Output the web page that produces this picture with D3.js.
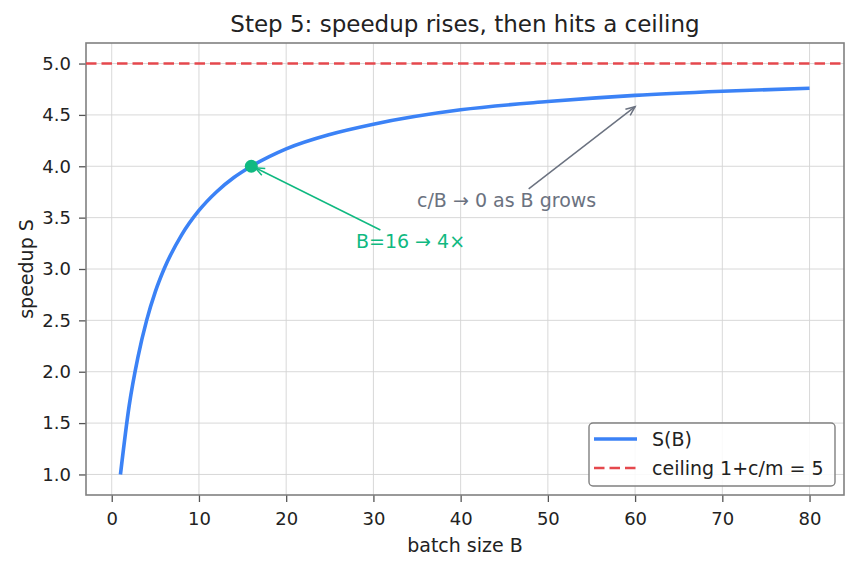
<!DOCTYPE html>
<html>
<head>
<meta charset="utf-8">
<script src="https://cdn.jsdelivr.net/npm/d3@7"></script>
<style>
  body { margin: 0; background: #fff; }
</style>
</head>
<body>
<div class="canvas"></div>
<script>
// DATA
var batchSizes = [1, 2, 3, 4, 5, 6, 8, 10, 12, 14, 16, 20, 25, 30, 40, 50, 60, 70, 80];
var speedups   = [1.0, 1.67, 2.14, 2.5, 2.78, 3.0, 3.33, 3.57, 3.75, 3.89, 4.0, 4.17, 4.31, 4.41, 4.55, 4.63, 4.69, 4.73, 4.76];
var ceiling = 5;
var xTicks = [0, 10, 20, 30, 40, 50, 60, 70, 80];
var yTicks = [1.0, 1.5, 2.0, 2.5, 3.0, 3.5, 4.0, 4.5, 5.0];
var marked = { B: 16, S: 4 };

var FONT = "'DejaVu Sans', sans-serif";

// DIMENSIONS
var w = 859, h = 569;
var margin = { left: 86, right: 15, top: 43, bottom: 74 };

var svg = d3.select('.canvas').append('svg')
    .attr('width', w)
    .attr('height', h)
    .style('font-family', FONT);

var x = d3.scaleLinear().domain([-2.95, 83.95]).range([margin.left, w - margin.right]);
var y = d3.scaleLinear().domain([0.8, 5.2]).range([h - margin.bottom, margin.top]);

// GRID
var grid = svg.append('g');
grid.selectAll('.vg').data(xTicks).enter().append('line')
    .attr('x1', d => x(d)).attr('x2', d => x(d))
    .attr('y1', margin.top).attr('y2', h - margin.bottom)
    .attr('stroke', '#d4d4d4').attr('stroke-width', 0.9);
grid.selectAll('.hg').data(yTicks).enter().append('line')
    .attr('x1', margin.left).attr('x2', w - margin.right)
    .attr('y1', d => y(d)).attr('y2', d => y(d))
    .attr('stroke', '#d4d4d4').attr('stroke-width', 0.9);

// AXES
var xAxis = svg.append('g')
    .attr('transform', 'translate(0,' + (h - margin.bottom) + ')')
    .call(d3.axisBottom(x).tickValues(xTicks).tickSize(7).tickPadding(10).tickSizeOuter(0));
var yAxis = svg.append('g')
    .attr('transform', 'translate(' + margin.left + ',0)')
    .call(d3.axisLeft(y).tickValues(yTicks).tickFormat(d3.format('.1f')).tickSize(7).tickPadding(8).tickSizeOuter(0));
[xAxis, yAxis].forEach(a => {
    a.attr('font-family', null).attr('font-size', null);
    a.select('.domain').remove();
    a.selectAll('line').attr('stroke', '#555').attr('stroke-width', 1.3);
    a.selectAll('text').style('font-family', FONT).style('font-size', '18px').attr('fill', '#222');
});

// FRAME
svg.append('rect')
    .attr('x', margin.left).attr('y', margin.top)
    .attr('width', w - margin.left - margin.right)
    .attr('height', h - margin.top - margin.bottom)
    .attr('fill', 'none').attr('stroke', '#808080').attr('stroke-width', 1.6);

// CEILING
svg.append('line')
    .attr('x1', margin.left).attr('x2', w - margin.right)
    .attr('y1', y(ceiling)).attr('y2', y(ceiling))
    .attr('stroke', '#e5484d').attr('stroke-width', 2.4)
    .attr('stroke-dasharray', '10.5,5');

// CURVE
var line = d3.line()
    .x((d, i) => x(batchSizes[i]))
    .y(d => y(d))
    .curve(d3.curveMonotoneX);
svg.append('path')
    .datum(speedups)
    .attr('d', line)
    .attr('fill', 'none')
    .attr('stroke', '#3b82f6')
    .attr('stroke-width', 3.6);

// MARKED POINT
svg.append('circle')
    .attr('cx', x(marked.B)).attr('cy', y(marked.S))
    .attr('r', 6.5).attr('fill', '#10b981');

// ARROW HELPER
function arrow(x1, y1, x2, y2, color) {
    svg.append('line')
        .attr('x1', x1).attr('y1', y1).attr('x2', x2).attr('y2', y2)
        .attr('stroke', color).attr('stroke-width', 1.5);
    var ang = Math.atan2(y1 - y2, x1 - x2);
    var L = 10, a = 0.4;
    var p = [[x2 + L * Math.cos(ang + a), y2 + L * Math.sin(ang + a)], [x2, y2],
             [x2 + L * Math.cos(ang - a), y2 + L * Math.sin(ang - a)]];
    svg.append('path')
        .attr('d', d3.line()(p))
        .attr('fill', 'none').attr('stroke', color).attr('stroke-width', 1.5);
}

function label(sel, size, color) {
    return sel.style('font-family', FONT).style('font-size', size + 'px').attr('fill', color || '#222');
}

// ANNOTATIONS
arrow(x(30.8), y(3.38), x(marked.B) + 4, y(marked.S) + 1.5, '#10b981');
label(svg.append('text'), 19, '#10b981')
    .attr('x', x(28)).attr('y', y(3.2))
    .text('B=16 \u2192 4\u00d7');

arrow(x(47.8), y(3.78), x(60), y(4.58), '#6b7280');
label(svg.append('text'), 19, '#6b7280')
    .attr('x', x(35)).attr('y', y(3.6))
    .text('c/B \u2192 0 as B grows');

// TITLE & LABELS
label(svg.append('text'), 23)
    .attr('x', (margin.left + w - margin.right) / 2).attr('y', 32)
    .attr('text-anchor', 'middle')
    .text('Step 5: speedup rises, then hits a ceiling');
label(svg.append('text'), 19)
    .attr('x', (margin.left + w - margin.right) / 2).attr('y', 552)
    .attr('text-anchor', 'middle')
    .text('batch size B');
label(svg.append('text'), 19)
    .attr('transform', 'translate(33,' + ((margin.top + h - margin.bottom) / 2) + ') rotate(-90)')
    .attr('text-anchor', 'middle')
    .text('speedup S');

// LEGEND
var lg = svg.append('g').attr('transform', 'translate(589,423)');
lg.append('rect')
    .attr('width', 246).attr('height', 63).attr('rx', 4)
    .attr('fill', '#fff').attr('fill-opacity', 0.85)
    .attr('stroke', '#808080').attr('stroke-width', 1.4);
lg.append('line').attr('x1', 5).attr('x2', 48).attr('y1', 16).attr('y2', 16)
    .attr('stroke', '#3b82f6').attr('stroke-width', 3.6);
lg.append('line').attr('x1', 5).attr('x2', 48).attr('y1', 45).attr('y2', 45)
    .attr('stroke', '#e5484d').attr('stroke-width', 2.4).attr('stroke-dasharray', '10.5,5');
label(lg.append('text'), 19).attr('x', 63).attr('y', 23).text('S(B)');
label(lg.append('text'), 19).attr('x', 63).attr('y', 52).text('ceiling 1+c/m = 5');
</script>
</body>
</html>
